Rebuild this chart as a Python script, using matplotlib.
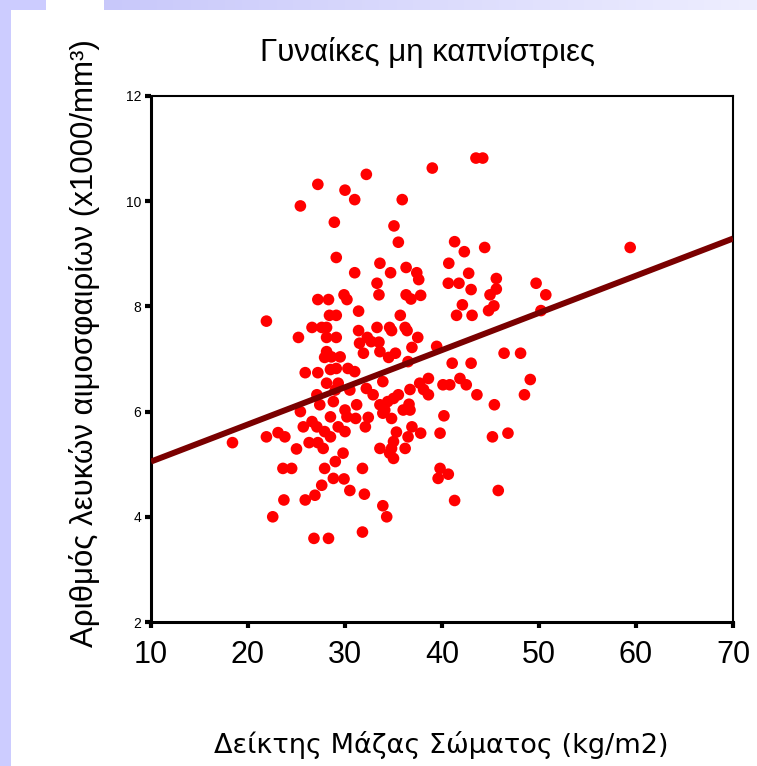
# scatter of white blood cells vs BMI for non-smoking women
import numpy as np
import matplotlib
matplotlib.use('Agg')
import matplotlib.pyplot as plt
from matplotlib.patches import Rectangle
from matplotlib.colors import LinearSegmentedColormap

# ---------------------------------- data ----------------------------------
bmi = [39.0, 43.5, 44.2, 32.2, 27.2, 30.0, 31.0, 35.9, 25.4, 28.9,
       35.05, 35.5, 41.3, 42.3, 44.4, 59.4, 29.1, 33.6, 40.7, 36.3,
       31.0, 34.7, 37.4, 42.75, 37.6, 45.6, 33.3, 40.65, 41.75, 49.7,
       45.6, 43.0, 33.5, 29.9, 36.3, 37.8, 44.95, 50.7, 30.2, 27.2,
       28.3, 36.8, 42.1, 45.35, 44.8, 50.2, 31.4, 28.4, 29.1, 35.7,
       41.5, 43.1, 21.9, 26.6, 27.6, 28.1, 33.3, 34.6, 34.8, 36.2,
       36.4, 31.4, 25.2, 28.1, 29.1, 32.3, 37.5, 33.5, 31.5, 32.7,
       39.45, 36.9, 33.6, 28.1, 31.9, 34.5, 35.2, 29.5, 27.9, 28.6,
       46.4, 48.1, 36.5, 41.05, 43.0, 30.3, 31.0, 29.1, 25.9, 27.2,
       28.5, 38.6, 41.85, 49.1, 33.9, 37.7, 28.1, 29.3, 40.1, 40.8,
       42.5, 38.1, 36.7, 32.2, 32.9, 35.5, 38.6, 29.0, 30.5, 27.1,
       34.4, 35.0, 43.6, 48.5, 27.4, 28.8, 31.2, 36.6, 45.4, 25.4,
       30.0, 36.0, 36.7, 33.9, 28.5, 30.2, 31.1, 32.4, 34.8, 40.2,
       26.6, 25.7, 27.1, 29.3, 32.1, 36.9, 27.9, 30.0, 35.3, 37.8,
       39.8, 23.1, 46.8, 21.9, 23.8, 28.5, 36.5, 45.2, 18.4, 26.3,
       27.2, 27.75, 25.0, 33.6, 34.8, 36.2, 35.0, 29.8, 34.6, 35.0,
       29.0, 23.6, 24.5, 27.9, 31.8, 39.8, 40.65, 39.6, 28.8, 29.9,
       27.6, 30.5, 45.8, 32.0, 26.9, 25.9, 23.7, 41.3, 33.9, 22.55,
       34.3, 31.8, 26.8, 28.3, 33.6, 34.1]

wbc = [10.63, 10.82, 10.82, 10.51, 10.32, 10.21, 10.03, 10.03, 9.91, 9.60,
       9.53, 9.22, 9.23, 9.04, 9.12, 9.12, 8.93, 8.82, 8.82, 8.74,
       8.64, 8.64, 8.64, 8.63, 8.51, 8.53, 8.44, 8.44, 8.44, 8.44,
       8.33, 8.32, 8.22, 8.22, 8.22, 8.21, 8.22, 8.22, 8.13, 8.13,
       8.13, 8.14, 8.03, 8.01, 7.92, 7.92, 7.91, 7.83, 7.83, 7.83,
       7.83, 7.83, 7.72, 7.60, 7.60, 7.60, 7.60, 7.60, 7.54, 7.60,
       7.54, 7.54, 7.41, 7.41, 7.41, 7.41, 7.41, 7.32, 7.30, 7.33,
       7.24, 7.22, 7.14, 7.14, 7.11, 7.03, 7.11, 7.04, 7.03, 7.04,
       7.11, 7.11, 6.95, 6.92, 6.92, 6.82, 6.76, 6.82, 6.74, 6.74,
       6.80, 6.63, 6.63, 6.61, 6.57, 6.54, 6.54, 6.54, 6.51, 6.51,
       6.51, 6.42, 6.42, 6.44, 6.32, 6.32, 6.32, 6.41, 6.41, 6.32,
       6.19, 6.25, 6.32, 6.32, 6.13, 6.19, 6.13, 6.14, 6.13, 6.00,
       6.03, 6.03, 6.03, 5.97, 5.90, 5.90, 5.87, 5.89, 5.87, 5.92,
       5.81, 5.71, 5.71, 5.71, 5.71, 5.71, 5.62, 5.62, 5.61, 5.59,
       5.59, 5.60, 5.59, 5.52, 5.52, 5.52, 5.52, 5.52, 5.41, 5.41,
       5.41, 5.30, 5.29, 5.30, 5.30, 5.30, 5.43, 5.21, 5.21, 5.11,
       5.05, 4.92, 4.92, 4.92, 4.92, 4.92, 4.81, 4.73, 4.73, 4.72,
       4.60, 4.50, 4.50, 4.43, 4.41, 4.32, 4.32, 4.31, 4.21, 4.00,
       4.00, 3.71, 3.59, 3.59, 6.13, 6.03]

# regression line ends (read at x = 10 and x = 70)
fit_x = [10, 70]
fit_y = [5.05, 9.29]

x_ticks = [10, 20, 30, 40, 50, 60, 70]
y_ticks = [2, 4, 6, 8, 10, 12]

title_text = 'Γυναίκες μη καπνίστριες'
x_label = 'Δείκτης Μάζας Σώματος (kg/m2)'
y_label = 'Αριθμός λευκών αιμοσφαιρίων (x1000/mm³)'

# ---------------------------------- figure ----------------------------------
W, H = 757, 766
fig = plt.figure(figsize=(W / 100, H / 100), dpi=100)
fig.patch.set_facecolor('white')

# lavender slide decoration (left strip + top strip with a fade)
fig.patches.append(Rectangle((0, 0), 11 / W, 1, transform=fig.transFigure,
                             facecolor='#ccccff', edgecolor='none', zorder=0))
fig.patches.append(Rectangle((0, 1 - 10 / H), 46 / W, 10 / H, transform=fig.transFigure,
                             facecolor='#ccccff', edgecolor='none', zorder=0))
strip = fig.add_axes([104 / W, 1 - 10 / H, 1 - 104 / W, 10 / H])
grad = np.linspace(0, 1, 256).reshape(1, -1)
fade = LinearSegmentedColormap.from_list('fade', ['#c8c8fa', '#eeeeff'])
strip.imshow(grad, aspect='auto', cmap=fade)
strip.axis('off')

ax = fig.add_axes([151 / W, 1 - 622 / H, (733 - 151) / W, (622 - 96) / H])

# points and fit line
ax.scatter(bmi, wbc, s=70, color='#ff0000', edgecolors='none', zorder=3)
ax.plot(fit_x, fit_y, color='#7a0000', linewidth=4.3, solid_capstyle='butt', zorder=4)

ax.set_xlim(10, 70)
ax.set_ylim(2, 12)
ax.set_xticks(x_ticks)
ax.set_yticks(y_ticks)

font = 'Liberation Sans'
ax.set_xticklabels([str(t) for t in x_ticks], fontsize=22, family=font)
ax.set_yticklabels([str(t) for t in y_ticks], fontsize=10, family=font)
ax.tick_params(axis='x', direction='out', length=4, width=3, pad=9, colors='black')
ax.tick_params(axis='y', direction='out', length=4, width=3, pad=3, colors='black')

# spines: left/bottom heavy, top/right lighter
ax.spines['left'].set_linewidth(2.2)
ax.spines['bottom'].set_linewidth(2.2)
ax.spines['top'].set_linewidth(1.5)
ax.spines['right'].set_linewidth(1.5)

# texts
fig.text(428 / W, 1 - 52 / H, title_text, ha='center', va='center', fontsize=22.5, family=font)
fig.text(85 / W, 1 - 343 / H, y_label, ha='center', va='center', rotation=90,
         fontsize=22.5, family=font)
fig.text(441 / W, 1 - 745 / H, x_label, ha='center', va='center', fontsize=19.5,
         family='DejaVu Sans')

plt.savefig('out.png', dpi=100)
